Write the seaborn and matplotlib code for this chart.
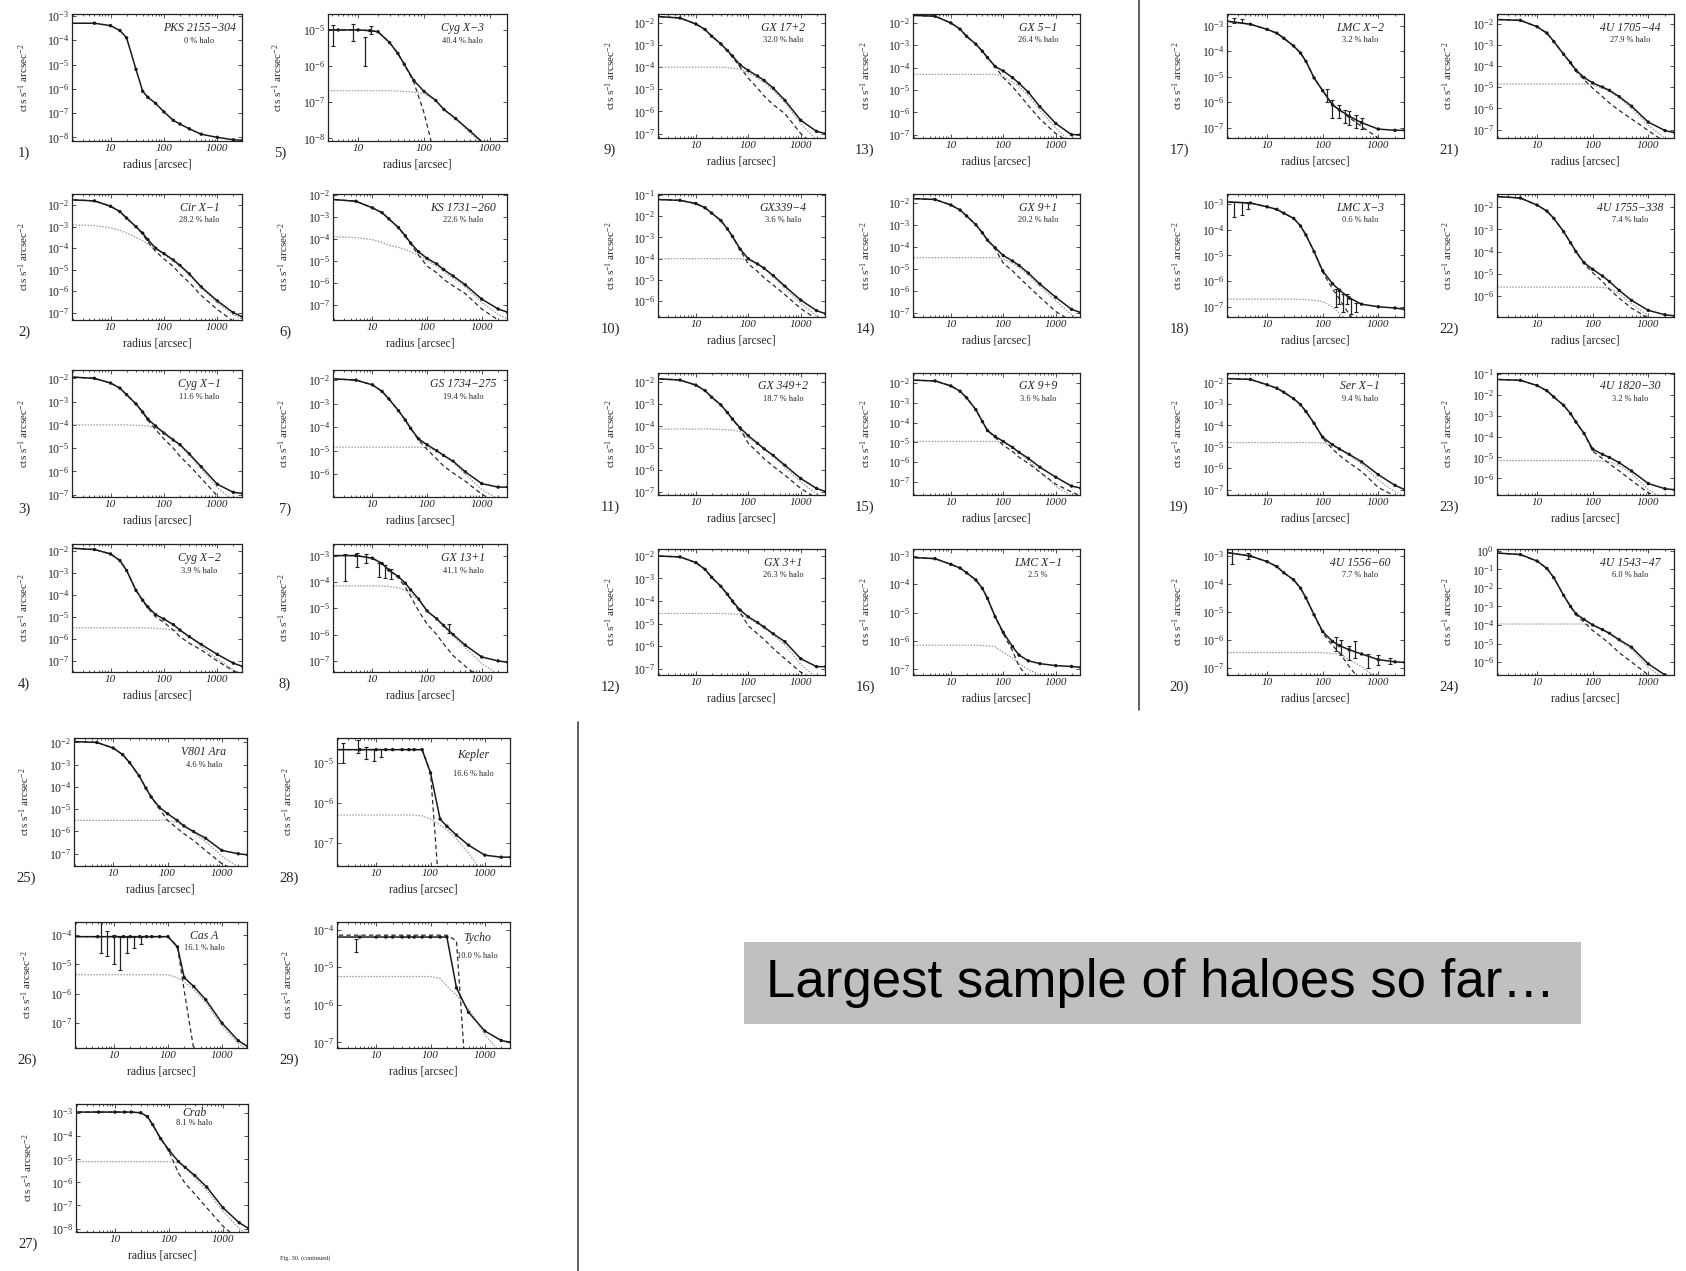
import numpy as np
import matplotlib
matplotlib.use("Agg")
import matplotlib.pyplot as plt
import seaborn as sns
from matplotlib.lines import Line2D
from matplotlib.patches import Rectangle

# Style
sns.set_theme(style="ticks")
plt.rcParams["font.family"] = ["Liberation Serif", "DejaVu Serif"]
plt.rcParams["mathtext.fontset"] = "custom"
plt.rcParams["mathtext.rm"] = "Liberation Serif"
plt.rcParams["mathtext.it"] = "Liberation Serif:italic"
plt.rcParams["mathtext.default"] = "it"

# radius grid [arcsec]; all profiles below are log10(cts s^-1 arcsec^-2)
radius = [1.5, 5, 10, 15, 20, 30, 40, 50, 70, 100, 150, 200, 300, 500, 1000, 2000, 3000]

names = ["PKS 2155−304", "Cir X−1", "Cyg X−1", "Cyg X−2", "Cyg X−3", "KS 1731−260",
         "GS 1734−275", "GX 13+1", "GX 17+2", "GX339−4", "GX 349+2", "GX 3+1",
         "GX 5−1", "GX 9+1", "GX 9+9", "LMC X−1", "LMC X−2", "LMC X−3", "Ser X−1",
         "4U 1556−60", "4U 1705−44", "4U 1755−338", "4U 1820−30", "4U 1543−47",
         "V801 Ara", "Cas A", "Crab", "Kepler", "Tycho"]
halo_txt = ["0 % halo", "28.2 % halo", "11.6 % halo", "3.9 % halo", "40.4 % halo",
            "22.6 % halo", "19.4 % halo", "41.1 % halo", "32.0 % halo", "3.6 % halo",
            "18.7 % halo", "26.3 % halo", "26.4 % halo", "20.2 % halo", "3.6 % halo",
            "2.5 %", "3.2 % halo", "0.6 % halo", "9.4 % halo", "7.7 % halo",
            "27.9 % halo", "7.4 % halo", "3.2 % halo", "6.0 % halo", "4.6 % halo",
            "16.1 % halo", "8.1 % halo", "16.6 % halo", "10.0 % halo"]
ylims = [(-8.15, -2.92), (-7.34, -1.48), (-7.1, -1.64), (-7.5, -1.7), (-8.07, -4.56),
         (-7.7, -1.97), (-6.97, -1.57), (-7.42, -2.56), (-7.2, -1.6), (-6.75, -0.95),
         (-7.15, -1.6), (-7.27, -1.7), (-7.15, -1.6), (-7.2, -1.6), (-7.65, -1.5),
         (-7.2, -2.76), (-7.4, -2.55), (-7.4, -2.6), (-7.25, -1.55), (-7.25, -2.75),
         (-7.4, -1.55), (-6.95, -1.4), (-6.8, -0.95), (-6.7, 0.1), (-7.55, -1.8),
         (-7.85, -3.55), (-8.15, -2.6), (-7.57, -4.38), (-7.15, -3.8)]

tot_01 = [-3.3, -3.3, -3.4, -3.6, -3.9, -5.2, -6.1, -6.35, -6.6, -6.95, -7.3, -7.45, -7.65, -7.87, -8.0, -8.1, -8.12]
psf_01 = None
halo_01 = None

tot_02 = [-1.74, -1.8, -2.05, -2.3, -2.6, -3.0, -3.3, -3.6, -4.0, -4.25, -4.55, -4.8, -5.2, -5.8, -6.45, -7.0, -7.2]
psf_02 = [-1.74, -1.8, -2.05, -2.3, -2.6, -3.0, -3.35, -3.7, -4.15, -4.5, -4.85, -5.2, -5.6, -6.2, -6.85, -7.4, -7.6]
halo_02 = [-2.9, -2.95, -3.05, -3.17, -3.3, -3.5, -3.65, -3.8, -4.05, -4.3, -4.6, -4.85, -5.25, -5.85, -6.55, -7.1, -7.3]

tot_03 = [-1.93, -2.0, -2.2, -2.42, -2.7, -3.1, -3.45, -3.75, -4.05, -4.35, -4.65, -4.85, -5.25, -5.8, -6.55, -6.9, -6.95]
psf_03 = [-1.93, -2.0, -2.2, -2.42, -2.7, -3.1, -3.45, -3.8, -4.2, -4.6, -5.0, -5.35, -5.75, -6.3, -7.05, -7.6, -7.9]
halo_03 = [-4.0, -4.0, -4.0, -4.0, -4.0, -4.02, -4.03, -4.05, -4.12, -4.3, -4.6, -4.9, -5.3, -5.9, -6.7, -7.25, -7.45]

tot_04 = [-1.88, -1.95, -2.15, -2.45, -2.9, -3.8, -4.25, -4.55, -4.9, -5.1, -5.35, -5.6, -5.9, -6.25, -6.7, -7.1, -7.25]
psf_04 = [-1.88, -1.95, -2.15, -2.45, -2.9, -3.8, -4.27, -4.6, -5.0, -5.25, -5.6, -5.9, -6.2, -6.5, -7.0, -7.45, -7.65]
halo_04 = [-5.5, -5.5, -5.5, -5.5, -5.5, -5.5, -5.5, -5.5, -5.52, -5.55, -5.6, -5.65, -5.9, -6.35, -6.9, -7.4, -7.6]

tot_05 = [-5.0, -5.0, -5.0, -5.02, -5.05, -5.35, -5.65, -5.95, -6.4, -6.7, -6.95, -7.2, -7.45, -7.8, -8.3, -8.8, -9.0]
psf_05 = [-5.0, -5.0, -5.0, -5.02, -5.05, -5.35, -5.65, -5.95, -6.45, -7.3, -8.6, -9.5, -10, -10, -10, -10, -10]
halo_05 = [-6.68, -6.68, -6.68, -6.68, -6.68, -6.68, -6.69, -6.7, -6.72, -6.77, -6.95, -7.2, -7.45, -7.85, -8.35, -8.85, -9.1]

tot_06 = [-2.2, -2.3, -2.6, -2.82, -3.1, -3.5, -3.87, -4.2, -4.6, -4.9, -5.15, -5.4, -5.7, -6.1, -6.75, -7.2, -7.35]
psf_06 = [-2.2, -2.3, -2.6, -2.82, -3.1, -3.5, -3.9, -4.25, -4.75, -5.25, -5.55, -5.85, -6.15, -6.5, -7.2, -7.7, -7.9]
halo_06 = [-3.9, -3.95, -4.05, -4.17, -4.3, -4.4, -4.5, -4.6, -4.75, -5.0, -5.25, -5.5, -5.8, -6.2, -6.9, -7.45, -7.65]

tot_07 = [-1.93, -2.0, -2.2, -2.48, -2.8, -3.3, -3.7, -4.05, -4.5, -4.75, -5.0, -5.2, -5.45, -5.9, -6.4, -6.55, -6.55]
psf_07 = [-1.93, -2.0, -2.2, -2.48, -2.8, -3.3, -3.7, -4.05, -4.55, -4.95, -5.35, -5.65, -5.95, -6.3, -6.85, -7.25, -7.4]
halo_07 = [-4.85, -4.85, -4.85, -4.85, -4.85, -4.85, -4.85, -4.85, -4.85, -4.87, -5.0, -5.2, -5.5, -6.0, -6.65, -7.05, -7.2]

tot_08 = [-3.0, -3.0, -3.1, -3.3, -3.55, -3.8, -4.05, -4.3, -4.65, -5.1, -5.4, -5.65, -6.0, -6.4, -6.85, -7.0, -7.05]
psf_08 = [-3.0, -3.0, -3.1, -3.3, -3.55, -3.85, -4.2, -4.55, -5.1, -5.6, -6.0, -6.35, -6.8, -7.2, -7.7, -8.2, -8.4]
halo_08 = [-4.15, -4.15, -4.15, -4.16, -4.17, -4.22, -4.32, -4.45, -4.7, -5.12, -5.42, -5.7, -6.05, -6.5, -7.1, -7.5, -7.65]

tot_09 = [-1.7, -1.78, -2.05, -2.3, -2.6, -2.95, -3.25, -3.5, -3.9, -4.15, -4.4, -4.6, -4.95, -5.5, -6.4, -6.9, -7.0]
psf_09 = [-1.7, -1.78, -2.05, -2.3, -2.6, -2.95, -3.27, -3.55, -4.0, -4.5, -4.95, -5.3, -5.7, -6.1, -7.0, -7.6, -7.9]
halo_09 = [-4.0, -4.0, -4.0, -4.0, -4.0, -4.0, -4.02, -4.05, -4.1, -4.25, -4.5, -4.7, -5.05, -5.6, -6.55, -7.3, -7.6]

tot_10 = [-1.2, -1.25, -1.4, -1.6, -1.85, -2.2, -2.6, -2.95, -3.55, -4.0, -4.25, -4.45, -4.8, -5.3, -5.95, -6.45, -6.6]
psf_10 = [-1.2, -1.25, -1.4, -1.6, -1.85, -2.2, -2.6, -2.95, -3.6, -4.25, -4.6, -4.9, -5.25, -5.7, -6.35, -6.85, -7.0]
halo_10 = [-4.0, -4.0, -4.0, -4.0, -4.0, -4.0, -4.0, -4.0, -4.0, -4.05, -4.25, -4.45, -4.85, -5.4, -6.1, -6.7, -6.9]

tot_11 = [-1.85, -1.92, -2.15, -2.4, -2.7, -3.05, -3.4, -3.7, -4.1, -4.45, -4.8, -5.05, -5.35, -5.8, -6.4, -6.85, -7.0]
psf_11 = [-1.85, -1.92, -2.15, -2.4, -2.7, -3.05, -3.4, -3.7, -4.15, -4.8, -5.2, -5.5, -5.85, -6.25, -6.85, -7.3, -7.5]
halo_11 = [-4.15, -4.15, -4.15, -4.15, -4.15, -4.17, -4.18, -4.2, -4.25, -4.55, -4.8, -5.05, -5.4, -5.9, -6.55, -7.1, -7.3]

tot_12 = [-2.0, -2.05, -2.3, -2.6, -2.95, -3.35, -3.7, -4.0, -4.4, -4.7, -4.95, -5.15, -5.45, -5.8, -6.55, -6.9, -6.9]
psf_12 = [-2.0, -2.05, -2.3, -2.6, -2.95, -3.35, -3.72, -4.05, -4.5, -5.1, -5.45, -5.7, -6.1, -6.55, -7.15, -7.5, -7.6]
halo_12 = [-4.55, -4.55, -4.55, -4.55, -4.55, -4.55, -4.56, -4.57, -4.6, -4.75, -5.0, -5.2, -5.5, -5.95, -6.8, -7.4, -7.6]

tot_13 = [-1.65, -1.7, -2.0, -2.28, -2.6, -2.95, -3.27, -3.55, -3.95, -4.15, -4.45, -4.7, -5.1, -5.75, -6.5, -7.0, -7.0]
psf_13 = [-1.65, -1.7, -2.0, -2.28, -2.6, -2.95, -3.27, -3.55, -3.95, -4.45, -4.85, -5.2, -5.7, -6.3, -6.95, -7.4, -7.6]
halo_13 = [-4.3, -4.3, -4.3, -4.3, -4.3, -4.3, -4.3, -4.3, -4.3, -4.4, -4.65, -4.85, -5.25, -5.9, -6.7, -7.4, -7.6]

tot_14 = [-1.8, -1.85, -2.1, -2.33, -2.6, -3.0, -3.37, -3.7, -4.05, -4.4, -4.65, -4.85, -5.2, -5.7, -6.3, -6.85, -7.0]
psf_14 = [-1.8, -1.85, -2.1, -2.33, -2.6, -3.0, -3.37, -3.7, -4.1, -4.75, -5.1, -5.4, -5.8, -6.3, -6.95, -7.4, -7.6]
halo_14 = [-4.5, -4.5, -4.5, -4.5, -4.5, -4.5, -4.5, -4.5, -4.5, -4.55, -4.75, -4.95, -5.3, -5.8, -6.45, -7.1, -7.3]

tot_15 = [-1.85, -1.9, -2.15, -2.42, -2.75, -3.35, -3.95, -4.4, -4.7, -4.95, -5.25, -5.5, -5.8, -6.25, -6.75, -7.2, -7.3]
psf_15 = [-1.85, -1.9, -2.15, -2.42, -2.75, -3.35, -3.95, -4.4, -4.75, -5.15, -5.45, -5.75, -6.05, -6.5, -7.1, -7.5, -7.7]
halo_15 = [-4.95, -4.95, -4.95, -4.95, -4.95, -4.95, -4.95, -4.95, -4.95, -5.0, -5.25, -5.5, -5.9, -6.5, -7.2, -7.7, -7.9]

tot_16 = [-3.05, -3.1, -3.3, -3.43, -3.6, -3.85, -4.15, -4.5, -5.15, -5.7, -6.2, -6.5, -6.7, -6.8, -6.87, -6.9, -6.93]
psf_16 = [-3.05, -3.1, -3.3, -3.43, -3.6, -3.85, -4.15, -4.5, -5.15, -5.75, -6.35, -6.9, -7.3, -7.6, -8.0, -8.3, -8.5]
halo_16 = [-6.15, -6.15, -6.15, -6.15, -6.15, -6.15, -6.16, -6.17, -6.2, -6.4, -6.6, -6.8, -7.0, -7.2, -7.6, -8.0, -8.2]

tot_17 = [-2.8, -2.95, -3.15, -3.3, -3.5, -3.8, -4.08, -4.4, -5.05, -5.55, -6.1, -6.3, -6.55, -6.8, -7.05, -7.1, -7.1]
psf_17 = [-2.8, -2.95, -3.15, -3.3, -3.5, -3.8, -4.08, -4.4, -5.05, -5.55, -6.1, -6.3, -6.6, -6.95, -7.4, -7.8, -8.0]
halo_17 = None

tot_18 = [-2.9, -2.95, -3.1, -3.2, -3.35, -3.55, -3.85, -4.2, -4.85, -5.6, -6.1, -6.35, -6.65, -6.9, -7.0, -7.05, -7.1]
psf_18 = [-2.9, -2.95, -3.1, -3.2, -3.35, -3.55, -3.85, -4.2, -4.85, -5.65, -6.3, -6.7, -7.3, -7.8, -8.3, -8.8, -9.0]
halo_18 = [-6.7, -6.7, -6.7, -6.7, -6.7, -6.7, -6.71, -6.72, -6.75, -6.8, -7.0, -7.25, -7.6, -8.0, -8.5, -9.0, -9.2]

tot_19 = [-1.8, -1.85, -2.1, -2.26, -2.45, -2.75, -3.03, -3.35, -3.9, -4.55, -4.9, -5.1, -5.35, -5.7, -6.3, -6.8, -7.0]
psf_19 = [-1.8, -1.85, -2.1, -2.26, -2.45, -2.75, -3.03, -3.35, -3.9, -4.6, -5.1, -5.4, -5.75, -6.15, -6.9, -7.3, -7.5]
halo_19 = [-4.8, -4.8, -4.8, -4.8, -4.8, -4.8, -4.8, -4.8, -4.8, -4.82, -4.95, -5.1, -5.4, -5.8, -6.55, -7.1, -7.3]

tot_20 = [-2.85, -3.0, -3.2, -3.38, -3.6, -3.85, -4.15, -4.5, -5.1, -5.7, -6.05, -6.2, -6.35, -6.5, -6.7, -6.78, -6.8]
psf_20 = [-2.85, -3.0, -3.2, -3.38, -3.6, -3.85, -4.15, -4.5, -5.1, -5.75, -6.2, -6.45, -6.95, -7.5, -8.0, -8.5, -8.7]
halo_20 = [-6.45, -6.45, -6.45, -6.45, -6.45, -6.45, -6.45, -6.45, -6.45, -6.45, -6.48, -6.5, -6.7, -6.95, -7.4, -7.8, -8.0]

tot_21 = [-1.8, -1.85, -2.15, -2.45, -2.85, -3.45, -3.85, -4.2, -4.55, -4.8, -5.0, -5.15, -5.45, -5.9, -6.65, -7.05, -7.15]
psf_21 = [-1.8, -1.85, -2.15, -2.45, -2.85, -3.45, -3.87, -4.25, -4.65, -5.05, -5.45, -5.75, -6.1, -6.5, -7.05, -7.6, -7.8]
halo_21 = [-4.85, -4.85, -4.85, -4.85, -4.85, -4.85, -4.85, -4.85, -4.85, -4.9, -5.05, -5.2, -5.5, -6.0, -6.8, -7.4, -7.6]

tot_22 = [-1.5, -1.58, -1.9, -2.17, -2.5, -3.1, -3.6, -4.0, -4.5, -4.8, -5.1, -5.35, -5.75, -6.2, -6.65, -6.85, -6.9]
psf_22 = [-1.5, -1.58, -1.9, -2.17, -2.5, -3.1, -3.6, -4.0, -4.55, -4.95, -5.35, -5.7, -6.1, -6.55, -7.0, -7.4, -7.6]
halo_22 = [-5.6, -5.6, -5.6, -5.6, -5.6, -5.6, -5.6, -5.6, -5.6, -5.6, -5.62, -5.65, -5.9, -6.35, -6.9, -7.3, -7.45]

tot_23 = [-1.25, -1.3, -1.55, -1.8, -2.1, -2.5, -2.9, -3.3, -3.85, -4.6, -4.85, -5.0, -5.25, -5.65, -6.25, -6.5, -6.55]
psf_23 = [-1.25, -1.3, -1.55, -1.8, -2.1, -2.5, -2.9, -3.3, -3.85, -4.7, -5.05, -5.3, -5.65, -6.1, -6.7, -7.0, -7.2]
halo_23 = [-5.15, -5.15, -5.15, -5.15, -5.15, -5.15, -5.15, -5.15, -5.15, -5.15, -5.17, -5.2, -5.4, -5.75, -6.55, -7.0, -7.2]

tot_24 = [-0.1, -0.2, -0.55, -0.95, -1.45, -2.4, -3.0, -3.4, -3.7, -4.0, -4.25, -4.45, -4.8, -5.2, -6.1, -6.7, -7.0]
psf_24 = [-0.1, -0.2, -0.55, -0.95, -1.45, -2.4, -3.02, -3.45, -3.85, -4.3, -4.7, -5.0, -5.5, -6.0, -6.7, -7.2, -7.4]
halo_24 = [-3.95, -3.95, -3.95, -3.95, -3.95, -3.95, -3.95, -3.95, -3.95, -4.0, -4.25, -4.5, -4.85, -5.3, -6.3, -6.9, -7.2]

tot_25 = [-1.95, -2.0, -2.25, -2.55, -2.9, -3.5, -4.05, -4.45, -4.9, -5.2, -5.5, -5.75, -6.0, -6.3, -6.85, -7.0, -7.05]
psf_25 = [-1.95, -2.0, -2.25, -2.55, -2.9, -3.5, -4.05, -4.45, -4.95, -5.5, -5.85, -6.1, -6.4, -6.85, -7.45, -7.8, -8.0]
halo_25 = [-5.5, -5.5, -5.5, -5.5, -5.5, -5.5, -5.5, -5.5, -5.5, -5.5, -5.6, -5.75, -6.05, -6.45, -7.1, -7.6, -7.8]

tot_26 = [-4.05, -4.05, -4.05, -4.05, -4.05, -4.05, -4.05, -4.05, -4.05, -4.05, -4.4, -5.45, -5.75, -6.2, -7.0, -7.6, -7.8]
psf_26 = [-4.05, -4.05, -4.05, -4.05, -4.05, -4.05, -4.05, -4.05, -4.05, -4.05, -4.4, -5.9, -7.9, -9.0, -9.0, -9.0, -9.0]
halo_26 = [-5.35, -5.35, -5.35, -5.35, -5.35, -5.35, -5.35, -5.35, -5.35, -5.35, -5.45, -5.6, -5.85, -6.3, -7.1, -7.7, -7.9]

tot_27 = [-2.95, -2.95, -2.95, -2.95, -2.95, -2.98, -3.15, -3.5, -4.1, -4.6, -5.1, -5.35, -5.7, -6.2, -7.1, -7.75, -8.0]
psf_27 = [-2.95, -2.95, -2.95, -2.95, -2.95, -2.98, -3.15, -3.5, -4.1, -4.65, -5.6, -6.05, -6.5, -7.1, -7.9, -8.5, -8.8]
halo_27 = [-5.1, -5.1, -5.1, -5.1, -5.1, -5.1, -5.1, -5.1, -5.1, -5.1, -5.12, -5.35, -5.8, -6.35, -7.25, -8.0, -8.3]

tot_28 = [-4.67, -4.67, -4.67, -4.67, -4.67, -4.67, -4.67, -4.67, -4.67, -5.25, -6.4, -6.58, -6.8, -7.05, -7.3, -7.35, -7.35]
psf_28 = [-4.67, -4.67, -4.67, -4.67, -4.67, -4.67, -4.67, -4.67, -4.67, -5.25, -8.5, -9.0, -9.0, -9.0, -9.0, -9.0, -9.0]
halo_28 = [-6.3, -6.3, -6.3, -6.3, -6.3, -6.3, -6.3, -6.3, -6.32, -6.4, -6.55, -6.66, -6.9, -7.25, -7.8, -8.2, -8.4]

tot_29 = [-4.2, -4.2, -4.2, -4.2, -4.2, -4.2, -4.2, -4.2, -4.2, -4.2, -4.2, -4.2, -5.55, -6.2, -6.7, -6.95, -7.0]
psf_29 = [-4.15, -4.15, -4.15, -4.15, -4.15, -4.15, -4.15, -4.15, -4.15, -4.15, -4.15, -4.15, -4.3, -9.0, -9.0, -9.0, -9.0]
halo_29 = [-5.25, -5.25, -5.25, -5.25, -5.25, -5.25, -5.25, -5.25, -5.25, -5.25, -5.3, -5.5, -5.75, -6.1, -6.8, -7.3, -7.5]

# error bars for the noisy panels: radius, log10 low, log10 high
err_05 = ([4.2, 8.4, 12.6, 15.8], [-5.45, -5.3, -6.0, -5.1], [-4.86, -4.85, -5.2, -4.9])
err_08 = ([3.2, 5.2, 7.5, 13, 17, 22, 250], [-3.95, -3.45, -3.3, -3.8, -3.85, -3.9, -5.95],
          [-2.95, -2.9, -2.95, -3.3, -3.35, -3.5, -5.6])
err_17 = ([2.5, 3.5, 120, 150, 200, 250, 300, 400, 500], [-2.9, -2.9, -6.0, -6.6, -6.6, -6.8, -6.9, -7.0, -7.05],
          [-2.7, -2.75, -5.5, -5.9, -6.1, -6.3, -6.35, -6.5, -6.6])
err_18 = ([2.5, 3.5, 4.5, 170, 200, 230, 270, 320, 400], [-3.5, -3.4, -3.2, -7.0, -6.9, -7.2, -6.9, -7.3, -7.2],
          [-2.9, -2.9, -2.95, -6.3, -6.4, -6.5, -6.5, -6.7, -6.85])
err_20 = ([2.3, 4.5, 170, 210, 300, 380, 640, 1000, 1650], [-3.3, -3.1, -6.4, -6.55, -6.7, -6.65, -7.0, -6.9, -6.85],
          [-2.75, -2.9, -5.9, -6.0, -6.2, -6.05, -6.5, -6.55, -6.65])
err_26 = ([5.7, 7.5, 10, 13, 17.7, 23.5, 31], [-4.6, -4.7, -5.0, -5.2, -4.6, -4.45, -4.3],
          [-3.55, -3.85, -4.0, -4.05, -4.05, -4.05, -4.05])
err_28 = ([2.4, 4.6, 6.5, 9.3, 12.4], [-5.0, -4.75, -4.9, -4.95, -4.85], [-4.5, -4.42, -4.6, -4.65, -4.65])
err_29 = ([4.3], [-4.6], [-4.25])

total = [tot_01, tot_02, tot_03, tot_04, tot_05, tot_06, tot_07, tot_08, tot_09, tot_10,
         tot_11, tot_12, tot_13, tot_14, tot_15, tot_16, tot_17, tot_18, tot_19, tot_20,
         tot_21, tot_22, tot_23, tot_24, tot_25, tot_26, tot_27, tot_28, tot_29]
psf = [psf_01, psf_02, psf_03, psf_04, psf_05, psf_06, psf_07, psf_08, psf_09, psf_10,
       psf_11, psf_12, psf_13, psf_14, psf_15, psf_16, psf_17, psf_18, psf_19, psf_20,
       psf_21, psf_22, psf_23, psf_24, psf_25, psf_26, psf_27, psf_28, psf_29]
halo = [halo_01, halo_02, halo_03, halo_04, halo_05, halo_06, halo_07, halo_08, halo_09, halo_10,
        halo_11, halo_12, halo_13, halo_14, halo_15, halo_16, halo_17, halo_18, halo_19, halo_20,
        halo_21, halo_22, halo_23, halo_24, halo_25, halo_26, halo_27, halo_28, halo_29]
errs = {5: err_05, 8: err_08, 17: err_17, 18: err_18, 20: err_20, 26: err_26, 28: err_28, 29: err_29}

# Layout (pixels): left, right, top, bottom
W, H = 1686, 1271
cols = [(72, 242), (333, 507), (658, 825), (913, 1080), (1227, 1404), (1497, 1674)]
rows_left = [(14, 141), (194, 320), (370, 497), (544, 672)]
rows_right = [(14, 138), (194, 317), (373, 495), (549, 675)]
boxes = {}
for c in range(6):
    rows = rows_left if c < 2 else rows_right
    for r in range(4):
        boxes[c * 4 + r + 1] = (cols[c][0], cols[c][1], rows[r][0], rows[r][1])
boxes[5] = (328, 507, 14, 141)
boxes[25] = (74, 247, 738, 866)
boxes[28] = (337, 510, 738, 866)
boxes[26] = (75, 247, 922, 1048)
boxes[29] = (337, 510, 922, 1048)
boxes[27] = (76, 248, 1104, 1232)

title_pos = {27: (0.69, 0.93, 0.85), 28: (0.79, 0.87, 0.72), 29: (0.81, 0.87, 0.73)}

fig = plt.figure(figsize=(W / 100, H / 100), dpi=100)
fig.patch.set_facecolor("white")

for k in range(1, 30):
    l, r, t, b = boxes[k]
    ax = fig.add_axes([l / W, 1 - b / H, (r - l) / W, (b - t) / H])
    ax.set_xscale("log")
    ax.set_yscale("log")

    tot = 10 ** np.array(total[k - 1])
    if halo[k - 1] is not None:
        sns.lineplot(x=radius, y=10 ** np.array(halo[k - 1]), ax=ax, color="#9a9a9a",
                     lw=0.9, linestyle=(0, (1.2, 1.2)))
    if psf[k - 1] is not None:
        sns.lineplot(x=radius, y=10 ** np.array(psf[k - 1]), ax=ax, color="#2a2a2a",
                     lw=0.9, linestyle=(0, (3.5, 2.5)))
    sns.lineplot(x=radius, y=tot, ax=ax, color="#1a1a1a", lw=1.1)
    sns.scatterplot(x=radius[1:], y=tot[1:], ax=ax, color="#111111", s=6, marker="o",
                    edgecolor="none")
    if k in errs:
        er, lo, hi = errs[k]
        ax.vlines(er, 10 ** np.array(lo), 10 ** np.array(hi), color="#222222", lw=0.9)
        ax.scatter(er, 10 ** np.array(hi), marker="_", s=10, color="#222222", lw=0.8)
        ax.scatter(er, 10 ** np.array(lo), marker="_", s=10, color="#222222", lw=0.8)

    ax.set_xlim((3.5, 1800) if k == 5 else (1.9, 2900))
    ylo, yhi = ylims[k - 1]
    ax.set_ylim(10 ** ylo, 10 ** yhi)

    ax.set_xticks([10, 100, 1000], labels=["10", "100", "1000"], fontsize=8, fontstyle="italic")
    exps = list(range(int(np.ceil(ylo)), int(np.floor(yhi)) + 1))
    ax.set_yticks([10.0 ** e for e in exps], labels=[f"$10^{{{e}}}$" for e in exps], fontsize=8.5)
    ax.yaxis.set_minor_locator(matplotlib.ticker.NullLocator())
    ax.tick_params(which="both", direction="in", top=True, right=True, width=0.6,
                   color="#333333", pad=2)
    ax.tick_params(which="major", length=3)
    ax.tick_params(which="minor", length=1.5)
    for sp in ax.spines.values():
        sp.set_linewidth(0.9)
        sp.set_color("#222222")

    ax.set_xlabel("radius [arcsec]", fontsize=8.5, labelpad=4)
    ax.set_ylabel("cts s$^{-1}$ arcsec$^{-2}$", fontsize=8)
    ax.yaxis.set_label_coords(-0.24, 0.5)

    tx, ty1, ty2 = title_pos.get(k, (0.75, 0.89, 0.79))
    ax.text(tx, ty1, names[k - 1], transform=ax.transAxes, ha="center", va="center",
            fontsize=8.5, fontstyle="italic")
    ax.text(tx, ty2, halo_txt[k - 1], transform=ax.transAxes, ha="center", va="center",
            fontsize=6)

    fig.text((l - 48) / W, 1 - (b + 12) / H, f"{k})", ha="center", va="center", fontsize=10.5)

# separators
fig.add_artist(Line2D([1139 / W, 1139 / W], [1.0, 1 - 710 / H], transform=fig.transFigure,
                      color="#444444", lw=1.2))
fig.add_artist(Line2D([578 / W, 578 / W], [1 - 722 / H, 0.0], transform=fig.transFigure,
                      color="#444444", lw=1.2))

fig.text(280 / W, 1 - 1258 / H, "Fig. 30. (continued)", fontsize=4.5, ha="left", va="center")

# caption box
fig.add_artist(Rectangle((744 / W, 1 - 1024 / H), (1581 - 744) / W, 82 / H,
                         transform=fig.transFigure, facecolor="#c0c0c0", edgecolor="none"))
fig.text(766 / W, 1 - 983 / H, "Largest sample of haloes so far…", fontsize=38,
         family=["Liberation Sans", "DejaVu Sans"], ha="left", va="center", color="black")

fig.savefig("out.png", dpi=100, facecolor="white")
